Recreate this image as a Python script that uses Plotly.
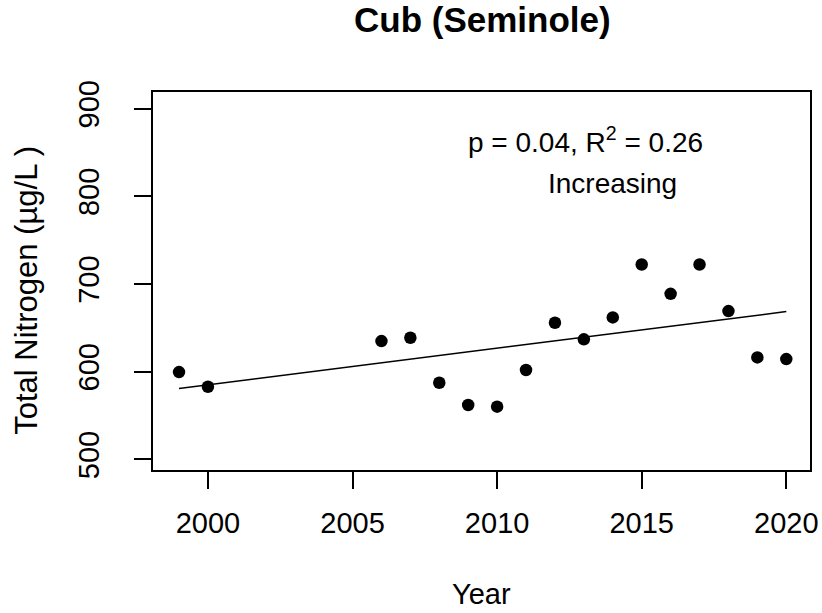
import numpy as np
import plotly.graph_objects as go

# Data
years = [1999, 2000, 2006, 2007, 2008, 2009, 2010, 2011, 2012, 2013,
         2014, 2015, 2016, 2017, 2018, 2019, 2020]
total_nitrogen = [599.5, 582.7, 634.8, 638.6, 587.3, 561.9, 560.0, 601.8,
                  655.7, 636.8, 661.8, 722.2, 688.7, 722.2, 669.0, 616.2, 614.3]
x_ticks = [2000, 2005, 2010, 2015, 2020]
y_ticks = [500, 600, 700, 800, 900]

title_text = "Cub (Seminole)"
x_title = "Year"
y_title = "Total Nitrogen (µg/L )"
stat_text = "p = 0.04, R<sup>2</sup> = 0.26"
trend_text = "Increasing"

# Linear fit through the data
slope, intercept = np.polyfit(years, total_nitrogen, 1)
fit_x = [min(years), max(years)]
fit_y = [intercept + slope * v for v in fit_x]

FONT = "Arial, Liberation Sans, sans-serif"

fig = go.Figure()
fig.add_trace(go.Scatter(x=fit_x, y=fit_y, mode="lines",
                         line=dict(color="black", width=1.5),
                         hoverinfo="skip", showlegend=False))
fig.add_trace(go.Scatter(x=years, y=total_nitrogen, mode="markers",
                         marker=dict(color="black", size=12.5),
                         showlegend=False))

axis_common = dict(showline=True, linecolor="black", linewidth=1.5, mirror=True,
                   ticks="outside", ticklen=17, tickwidth=1.5, tickcolor="black",
                   showgrid=False, zeroline=False, automargin=False,
                   tickfont=dict(family=FONT, size=29, color="black"))

fig.update_xaxes(range=[1998.1, 2020.82], tickvals=x_ticks,
                 ticktext=[str(v) for v in x_ticks], ticklabelstandoff=9,
                 **axis_common)
fig.update_yaxes(range=[487.8, 918.9], tickvals=y_ticks,
                 ticktext=[str(v) for v in y_ticks], tickangle=-90,
                 ticklabelstandoff=24, **axis_common)

annotations = [
    dict(text="<b>" + title_text + "</b>", xref="paper", yref="paper",
         x=0.502, y=1.192, xanchor="center", yanchor="middle", showarrow=False,
         font=dict(family=FONT, size=35, color="black")),
    dict(text=x_title, xref="paper", yref="paper", x=0.5, y=-0.328,
         xanchor="center", yanchor="middle", showarrow=False,
         font=dict(family=FONT, size=29, color="black")),
    dict(text=y_title, xref="paper", yref="paper", x=-0.1928, y=0.475,
         xanchor="center", yanchor="middle", textangle=-90, showarrow=False,
         font=dict(family=FONT, size=31, color="black")),
    dict(text=stat_text, xref="x", yref="y", x=2013.04, y=863.9,
         xanchor="center", yanchor="middle", showarrow=False,
         font=dict(family=FONT, size=28, color="black")),
    dict(text=trend_text, xref="x", yref="y", x=2013.99, y=814.9,
         xanchor="center", yanchor="middle", showarrow=False,
         font=dict(family=FONT, size=28, color="black")),
]

fig.update_layout(width=822, height=613,
                  margin=dict(l=153, r=12, t=92, b=143),
                  paper_bgcolor="white", plot_bgcolor="white",
                  annotations=annotations, showlegend=False)

# Remove the browser's default 8px page margin so the figure sits at (0, 0)
fig.write_html("out.html",
               config={"displayModeBar": False},
               post_script="document.body.style.margin='0';"
                           "document.body.style.overflow='hidden';")
